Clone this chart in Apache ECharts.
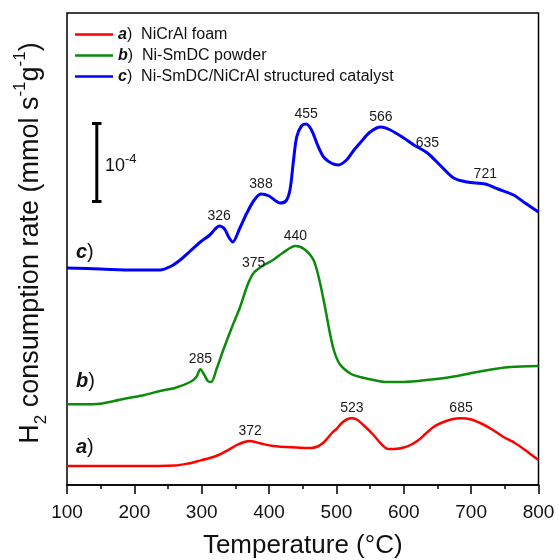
<!DOCTYPE html>
<html>
<head>
<meta charset="utf-8">
<script src="https://cdn.jsdelivr.net/npm/echarts@6/dist/echarts.min.js"></script>
<style>html,body{margin:0;padding:0;background:#fff}#c{width:559px;height:560px}</style>
</head>
<body>
<div id="c"></div>
<script>
// ---- data (temperature °C, signal in arbitrary offset units) ----
const tempA = [100,150,200,260,280,295,312,325,338,352,362,368,372,378,388,406,440,462,472,480,487,494,500,508,515,523,530,540,555,568,577,590,600,610,622,632,644,657,670,685,700,715,730,748,765,780,790,800];
const valA  = [21,21,21,21.5,23.5,26,29,32,36.5,42,44.8,45.8,46,45.2,43.5,41,39.5,39,40.5,44,49,54.5,58,64,67.5,68.7,67.5,62,52,42,38,38.2,39.5,42,47,53,60,64.5,67.5,68.7,67.5,63.5,58,50,44,37,32,27];

const tempB = [100,145,170,189,215,238,260,283,292,298,304,309,314,322,332,345,357,368,377,390,406,420,439,452,466,475,483,490,496,503,510,522,535,555,575,600,634,670,709,735,758,800];
const valB  = [82.7,83,86,88.7,92,96,99,105,110,117.7,112,106,105,118,137,160,180,202,214,221,227,234,241,238,227,206,180,155,137,125,119,113,110,107,105,105,107,110,115,118,120,121];

const tempC = [100,150,200,238,255,268,283,298,312,320,326,334,340,346,356,367,378,388,400,410,416,425,431,436,441,448,455,463,472,481,492,503,515,525,535,550,566,580,600,615,635,655,674,694,721,740,763,780,800];
const valC  = [219,218,217,217,221,227,236,245,252,258,261,258,250,245,258,274,287,293,291,286,284,286,297,325,350,361,363,357,342,330,324,322,327,336,344,355,360,357,349,342,334,321,309,305,303,298,292,284,275];

// peak labels: text and the temperature of the curve point they sit on
const peakTextA = ['372','523','685'];
const peakAtA   = [372,523,685];
const peakTextB = ['285','375','440'];
const peakAtB   = [298,377,439];
const peakTextC = ['326','388','455','566','635','721'];
const peakAtC   = [326,388,455,566,635,721];

const seriesNames = ['NiCrAl foam','Ni-SmDC powder','Ni-SmDC/NiCrAl structured catalyst'];
const seriesTags = ['a','b','c'];
const xTicks = [100,200,300,400,500,600,700,800];

// ---- styles ----
const FONT = 'Arial, "Liberation Sans", sans-serif';
const colors = ['#ff0000','#0b8a0b','#0000ff'];
const labelOffsets = {
  a: [[0,0],[0,0],[0,0]],
  b: [[0,-4],[-10,0],[-2,0]],
  c: [[0,0],[-2,-1],[0,0],[-2,0],[0,-4],[-4,-1]]
};

function build(temps, vals, texts, ats, offs) {
  return temps.map((t, i) => {
    const k = ats.indexOf(t);
    const item = { value: [t, vals[i]] };
    if (k >= 0) {
      item.label = {
        show: true, position: 'top', distance: 3,
        formatter: texts[k], offset: offs[k],
        color: '#1a1a1a', fontSize: 14, fontFamily: FONT
      };
    }
    return item;
  });
}

const dataSets = [
  build(tempA, valA, peakTextA, peakAtA, labelOffsets.a),
  build(tempB, valB, peakTextB, peakAtB, labelOffsets.b),
  build(tempC, valC, peakTextC, peakAtC, labelOffsets.c)
];
const widths = [2.5, 2.5, 3];
const tagRich = { t: { fontSize: 20, fontWeight: 'bold', fontStyle: 'italic', fontFamily: FONT, fill: '#111' } };

const chart = echarts.init(document.getElementById('c'), null, {renderer: 'canvas'});
chart.setOption({
  animation: false,
  backgroundColor: '#fff',
  grid: { left: 67, right: 20.5, top: 13, bottom: 75, show: true, borderColor: '#000', borderWidth: 1.5,
          backgroundColor: 'transparent', outerBoundsMode: 'none', containLabel: false },
  legend: {
    orient: 'vertical', left: 75, top: 25.5, itemGap: 3, padding: 0,
    icon: 'rect', itemWidth: 38, itemHeight: 2.5,
    data: seriesNames,
    textStyle: {
      fontFamily: FONT, fontSize: 16, color: '#111', lineHeight: 18,
      rich: { t: { fontFamily: FONT, fontSize: 16, fontWeight: 'bold', fontStyle: 'italic', color: '#111', lineHeight: 18 } }
    },
    formatter: function (name) {
      const i = seriesNames.indexOf(name);
      return '{t|' + seriesTags[i] + '})  ' + name;
    }
  },
  xAxis: {
    type: 'value', min: 100, max: 800, interval: 100,
    axisLine: { show: true, lineStyle: { color: '#000', width: 1.5 } },
    axisTick: { show: true, inside: false, length: 9, lineStyle: { color: '#000', width: 1.5 } },
    minorTick: { show: true, splitNumber: 2, length: 4, lineStyle: { color: '#000', width: 1.5 } },
    splitLine: { show: false },
    axisLabel: { color: '#111', fontSize: 19, fontFamily: FONT, margin: 18,
      formatter: v => xTicks.indexOf(v) >= 0 ? String(v) : '' },
    name: 'Temperature (°C)', nameLocation: 'middle', nameGap: 48,
    nameTextStyle: { fontSize: 26, fontFamily: FONT, color: '#111' }
  },
  yAxis: {
    type: 'value', min: 2, max: 474,
    axisLine: { show: false }, axisTick: { show: false }, axisLabel: { show: false }, splitLine: { show: false }
  },
  series: dataSets.map((d, i) => ({
    name: seriesNames[i], type: 'line', data: d,
    smooth: 0.3, symbol: 'circle', symbolSize: 0, showSymbol: true,
    lineStyle: { color: colors[i], width: widths[i] },
    itemStyle: { color: colors[i] },
    labelLayout: { hideOverlap: false }
  })),
  graphic: [
    // y-axis title
    { type: 'text', x: 31, y: 243, rotation: Math.PI / 2,
      style: {
        text: 'H{sub|2} consumption rate (mmol s{sup|-1}g{sup|-1})',
        font: '27px ' + FONT, fill: '#111', align: 'center', verticalAlign: 'middle',
        lineHeight: 38,
        rich: {
          sub: { fontSize: 17, fontFamily: FONT, fill: '#111', verticalAlign: 'bottom', lineHeight: 18 },
          sup: { fontSize: 17, fontFamily: FONT, fill: '#111', verticalAlign: 'top', lineHeight: 18 }
        }
      } },
    // curve tags
    { type: 'text', x: 76, y: 252, style: { text: '{t|c})', font: '20px ' + FONT, fill: '#111', verticalAlign: 'middle', rich: tagRich } },
    { type: 'text', x: 76, y: 381, style: { text: '{t|b})', font: '20px ' + FONT, fill: '#111', verticalAlign: 'middle', rich: tagRich } },
    { type: 'text', x: 76, y: 447, style: { text: '{t|a})', font: '20px ' + FONT, fill: '#111', verticalAlign: 'middle', rich: tagRich } },
    // scale bar
    { type: 'line', shape: { x1: 96.8, y1: 123.5, x2: 96.8, y2: 201.5 }, style: { stroke: '#000', lineWidth: 3 } },
    { type: 'line', shape: { x1: 92, y1: 123.5, x2: 101.5, y2: 123.5 }, style: { stroke: '#000', lineWidth: 3 } },
    { type: 'line', shape: { x1: 92, y1: 201.5, x2: 101.5, y2: 201.5 }, style: { stroke: '#000', lineWidth: 3 } },
    { type: 'text', x: 105, y: 166, style: {
        text: '10{sup|-4}', font: '18px ' + FONT, fill: '#111', verticalAlign: 'middle', lineHeight: 26,
        rich: { sup: { fontSize: 13, fontFamily: FONT, fill: '#111', verticalAlign: 'top', lineHeight: 13 } } } }
  ]
});
</script>
</body>
</html>
